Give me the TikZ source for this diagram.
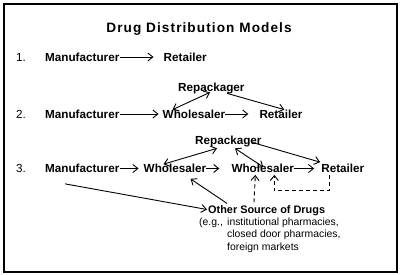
\documentclass[tikz,border=0pt]{standalone}
\usepackage{fontspec}
\setmainfont{Liberation Sans}
\usetikzlibrary{arrows.meta,positioning}
\tikzset{
  lbl/.style={inner sep=0pt, font=\fontsize{11.7}{13}\selectfont\bfseries, text height=8.3pt, text depth=0pt, anchor=west},
  num/.style={lbl, font=\fontsize{11.7}{13}\selectfont},
  src/.style={lbl, font=\fontsize{10.9}{13}\selectfont\bfseries, text height=7.8pt},
  note/.style={inner sep=0pt, font=\fontsize{10.4}{12.5}\selectfont, anchor=base west},
  ttl/.style={inner sep=0pt, font=\fontsize{13.6}{16}\selectfont\bfseries\addfontfeature{LetterSpace=8}, anchor=base},
  ar/.style={-{Straight Barb[length=5pt,width=8pt]}, line width=.9pt},
  dar/.style={{Straight Barb[length=5pt,width=8pt]}-{Straight Barb[length=5pt,width=8pt]}, line width=.9pt},
  dsh/.style={ar, dash pattern=on 4pt off 3pt},
}
\begin{document}
\begin{tikzpicture}[x=1pt, y=-1pt]
    \useasboundingbox (0,0) rectangle (401,275);
    \draw[line width=1.3pt] (4,4) rectangle (397,272);
    \node[ttl] (title) at (199,32.5) {Drug Distribution Models};

    \node[num] (num1) at (16,57) {1.};
    \node[lbl] (man1) at (45,57) {Manufacturer};
    \node[lbl, right=44pt of man1] (ret1) {Retailer};

    \node[num] (num2) at (16,114) {2.};
    \node[lbl] (man2) at (45,114) {Manufacturer};
    \node[lbl, right=43pt of man2] (whol2) {Wholesaler};
    \node[lbl, right=34pt of whol2] (ret2) {Retailer};
    \node[lbl] (rep2) at (178,87) {Repackager};

    \node[num] (num3) at (16,168.5) {3.};
    \node[lbl] (man3) at (45,168.5) {Manufacturer};
    \node[lbl, right=24pt of man3] (whola) {Wholesaler};
    \node[lbl, right=25pt of whola] (wholb) {Wholesaler};
    \node[lbl, right=27pt of wholb] (ret3) {Retailer};
    \node[lbl] (rep3) at (195,140) {Repackager};

    \node[src] (other) at (208,209.5) {Other Source of Drugs};
    \node[note] (eg) at (199,225) {(e.g.,};
    \node[note] (inst) at (227,225) {institutional pharmacies,};
    \node[note] (closed) at (227,237.5) {closed door pharmacies,};
    \node[note] (foreign) at (227,250) {foreign markets};

    \foreach \a/\b/\g in {man1/ret1/10pt, man2/whol2/4pt, whol2/ret2/11pt, man3/whola/5pt, whola/wholb/12pt, wholb/ret3/7pt}{\draw[ar, shorten >=\g] (\a.east) -- (\b.west);}

    \draw[dar] ([xshift=10pt]whol2.north west) -- ([xshift=32pt,yshift=-1pt]rep2.south west);
    \draw[ar] ([xshift=49pt,yshift=-2pt]rep2.south west) -- ([xshift=25pt]ret2.north west);

    \draw[dar] ([xshift=20pt]whola.north west) -- ([xshift=22pt,yshift=-4pt]rep3.south west);
    \draw[dar] ([xshift=40pt,yshift=-4pt]rep3.south west) -- ([xshift=32pt,yshift=-3pt]wholb.north west);
    \draw[ar] ([xshift=57pt,yshift=2pt]rep3.south west) -- ([xshift=-1pt,yshift=2pt]ret3.north west);
    \draw[ar] ([xshift=20pt,yshift=-11pt]man3.south west) -- ([xshift=-1pt]other.west);
    \draw[ar] ([xshift=19pt,yshift=2pt]other.north west) -- ([xshift=47pt,yshift=-6pt]whola.south west);
    \draw[dsh] ([xshift=46pt,yshift=3pt]other.north west) -- ([xshift=24pt,yshift=-2pt]wholb.south west);
    \draw[dsh] ([xshift=8pt,yshift=-2pt]ret3.south west) -- ++(0,16) -| ([xshift=43pt,yshift=-2pt]wholb.south west);
  \end{tikzpicture}
\end{document}
